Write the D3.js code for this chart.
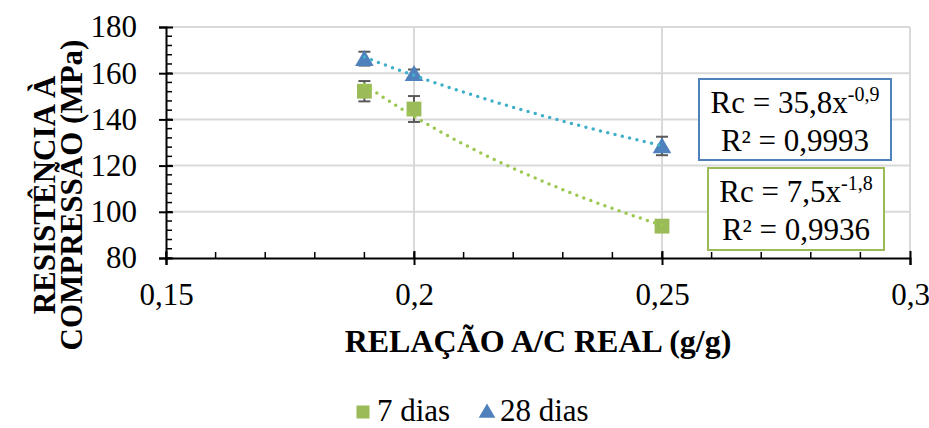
<!DOCTYPE html>
<html>
<head>
<meta charset="utf-8">
<script src="https://cdn.jsdelivr.net/npm/d3@7"></script>
<style>
  body { margin: 0; background: #fff; }
</style>
</head>
<body>
<div id="chart"></div>
<script>
// data
const ratio = [0.19, 0.2, 0.25];
const dias7 = [152.2, 144.5, 93.8];
const err7 = [4.4, 5.6, 0];
const dias28 = [166.3, 159.8, 128.5];
const err28 = [3.0, 1.8, 4.0];
const xTicks = [0.15, 0.2, 0.25, 0.3];
const yTicks = [80, 100, 120, 140, 160, 180];
const eq28 = ["Rc = 35,8x", "-0,9", "R² = 0,9993"];
const eq7 = ["Rc = 7,5x", "-1,8", "R² = 0,9936"];

const FONT = "'Liberation Serif', 'Times New Roman', serif";
const width = 929, height = 428;
const svg = d3.select("#chart").append("svg")
    .attr("width", width)
    .attr("height", height)
    .attr("font-family", FONT)
    .style("display", "block");

const x = d3.scaleLinear().domain([0.15, 0.3]).range([166, 910]);
const y = d3.scaleLinear().domain([80, 180]).range([258, 27]);

const fmt = d => String(d).replace(".", ",");

// gridlines
svg.append("g")
    .selectAll("line")
    .data(yTicks.slice(1))
    .join("line")
    .attr("x1", x(0.15)).attr("x2", x(0.3))
    .attr("y1", d => y(d)).attr("y2", d => y(d))
    .attr("stroke", "#d9d9d9").attr("stroke-width", 2);
svg.append("g")
    .selectAll("line")
    .data(xTicks.slice(1))
    .join("line")
    .attr("x1", d => x(d)).attr("x2", d => x(d))
    .attr("y1", y(80)).attr("y2", y(180))
    .attr("stroke", "#d9d9d9").attr("stroke-width", 2);

// minor ticks
svg.append("g")
    .selectAll("line")
    .data(d3.range(80, 180, 4))
    .join("line")
    .attr("x1", x(0.15)).attr("x2", x(0.15) + 6)
    .attr("y1", d => y(d)).attr("y2", d => y(d))
    .attr("stroke", "#000").attr("stroke-width", 1.5);
svg.append("g")
    .selectAll("line")
    .data(d3.range(15, 30).map(d => d / 100))
    .join("line")
    .attr("x1", d => x(d)).attr("x2", d => x(d))
    .attr("y1", y(80)).attr("y2", y(80) - 6)
    .attr("stroke", "#000").attr("stroke-width", 1.5);

// Y axis
const yAxis = svg.append("g")
    .attr("transform", `translate(${x(0.15)},0)`)
    .call(d3.axisLeft(y).tickValues(yTicks).tickSize(7).tickPadding(22));
yAxis.attr("font-family", FONT).attr("font-size", 31);
yAxis.select(".domain").attr("stroke-width", 2);
yAxis.selectAll(".tick line").attr("stroke-width", 2).attr("x2", 7).attr("x1", -7);
yAxis.selectAll("text").attr("fill", "#000");

// X axis
const xAxis = svg.append("g")
    .attr("transform", `translate(0,${y(80)})`)
    .call(d3.axisBottom(x).tickValues(xTicks).tickFormat(fmt).tickSize(7).tickPadding(18));
xAxis.attr("font-family", FONT).attr("font-size", 31);
xAxis.select(".domain").attr("stroke-width", 2);
xAxis.selectAll(".tick line").attr("stroke-width", 2).attr("y1", -7).attr("y2", 7);
xAxis.selectAll("text").attr("fill", "#000");

// axis titles
svg.append("text")
    .attr("x", 538).attr("y", 352)
    .attr("text-anchor", "middle")
    .attr("font-size", 32).attr("font-weight", "bold")
    .text("RELAÇÃO A/C REAL (g/g)");
const yTitle = svg.append("text")
    .attr("transform", "translate(55,195) rotate(-90)")
    .attr("text-anchor", "middle")
    .attr("font-size", 31).attr("font-weight", "bold");
yTitle.append("tspan").attr("x", 0).attr("dy", 0).text("RESISTÊNCIA À");
yTitle.append("tspan").attr("x", 0).attr("dy", 27).text("COMPRESSÃO (MPa)");

// power trendline from log-log least squares
function powerFit(xs, ys) {
    const lx = xs.map(Math.log), ly = ys.map(Math.log);
    const mx = d3.mean(lx), my = d3.mean(ly);
    const b = d3.sum(lx, (v, i) => (v - mx) * (ly[i] - my)) / d3.sum(lx, v => (v - mx) ** 2);
    const a = Math.exp(my - b * mx);
    return t => a * Math.pow(t, b);
}

const series = [
    { name: "7 dias", vals: dias7, err: err7, color: "#9bbb59", trend: "#9bc850", shape: d3.symbolSquare },
    { name: "28 dias", vals: dias28, err: err28, color: "#4f81bd", trend: "#3fb0c9", shape: d3.symbolTriangle }
];

// error bars
series.forEach(s => {
    const g = svg.append("g").attr("stroke", "#595959").attr("stroke-width", 2);
    const pts = ratio.map((r, i) => ({ r, v: s.vals[i], e: s.err[i] })).filter(d => d.e > 0);
    g.selectAll(".v").data(pts).join("line")
        .attr("x1", d => x(d.r)).attr("x2", d => x(d.r))
        .attr("y1", d => y(d.v + d.e)).attr("y2", d => y(d.v - d.e));
    g.selectAll(".t").data(pts.flatMap(d => [d.v + d.e, d.v - d.e].map(v => ({ r: d.r, v })))).join("line")
        .attr("x1", d => x(d.r) - 6).attr("x2", d => x(d.r) + 6)
        .attr("y1", d => y(d.v)).attr("y2", d => y(d.v));
});

// markers
series.forEach(s => {
    svg.append("g").selectAll("path")
        .data(ratio.map((r, i) => ({ r, v: s.vals[i] })))
        .join("path")
        .attr("transform", d => `translate(${x(d.r)},${y(d.v) + (s.shape === d3.symbolTriangle ? 2 : 0)})`)
        .attr("d", d3.symbol().type(s.shape).size(s.shape === d3.symbolTriangle ? 150 : 220))
        .attr("fill", s.color);
});

// trendlines
series.forEach(s => {
    const f = powerFit(ratio, s.vals);
    const xs = d3.range(0, 61).map(i => 0.19 + i * 0.001);
    svg.append("path")
        .datum(xs)
        .attr("fill", "none")
        .attr("stroke", s.trend)
        .attr("stroke-width", 3.5)
        .attr("stroke-linecap", "round")
        .attr("stroke-dasharray", "0 7.5")
        .attr("d", d3.line().x(d => x(d)).y(d => y(f(d))));
});

// equation boxes
function eqBox(x0, y0, w, h, color, eq) {
    svg.append("rect")
        .attr("x", x0).attr("y", y0).attr("width", w).attr("height", h)
        .attr("fill", "#fff").attr("stroke", color).attr("stroke-width", 2);
    const t1 = svg.append("text")
        .attr("x", x0 + w / 2).attr("y", y0 + 34)
        .attr("text-anchor", "middle").attr("font-size", 31);
    t1.append("tspan").text(eq[0]);
    t1.append("tspan").attr("dy", -12).attr("font-size", 20).text(eq[1]);
    svg.append("text")
        .attr("x", x0 + w / 2).attr("y", y0 + 72)
        .attr("text-anchor", "middle").attr("font-size", 31)
        .text(eq[2]);
}
eqBox(699, 79, 192, 81, "#4f81bd", eq28);
eqBox(708, 168, 176, 82, "#9bbb59", eq7);

// legend
const leg = svg.append("g").attr("font-size", 31);
leg.append("path")
    .attr("transform", "translate(363,412)")
    .attr("d", d3.symbol().type(d3.symbolSquare).size(170))
    .attr("fill", "#9bbb59");
leg.append("text").attr("x", 377).attr("y", 421).text("7 dias");
leg.append("path")
    .attr("transform", "translate(487,413)")
    .attr("d", d3.symbol().type(d3.symbolTriangle).size(120))
    .attr("fill", "#4f81bd");
leg.append("text").attr("x", 500).attr("y", 421).text("28 dias");
</script>
</body>
</html>
